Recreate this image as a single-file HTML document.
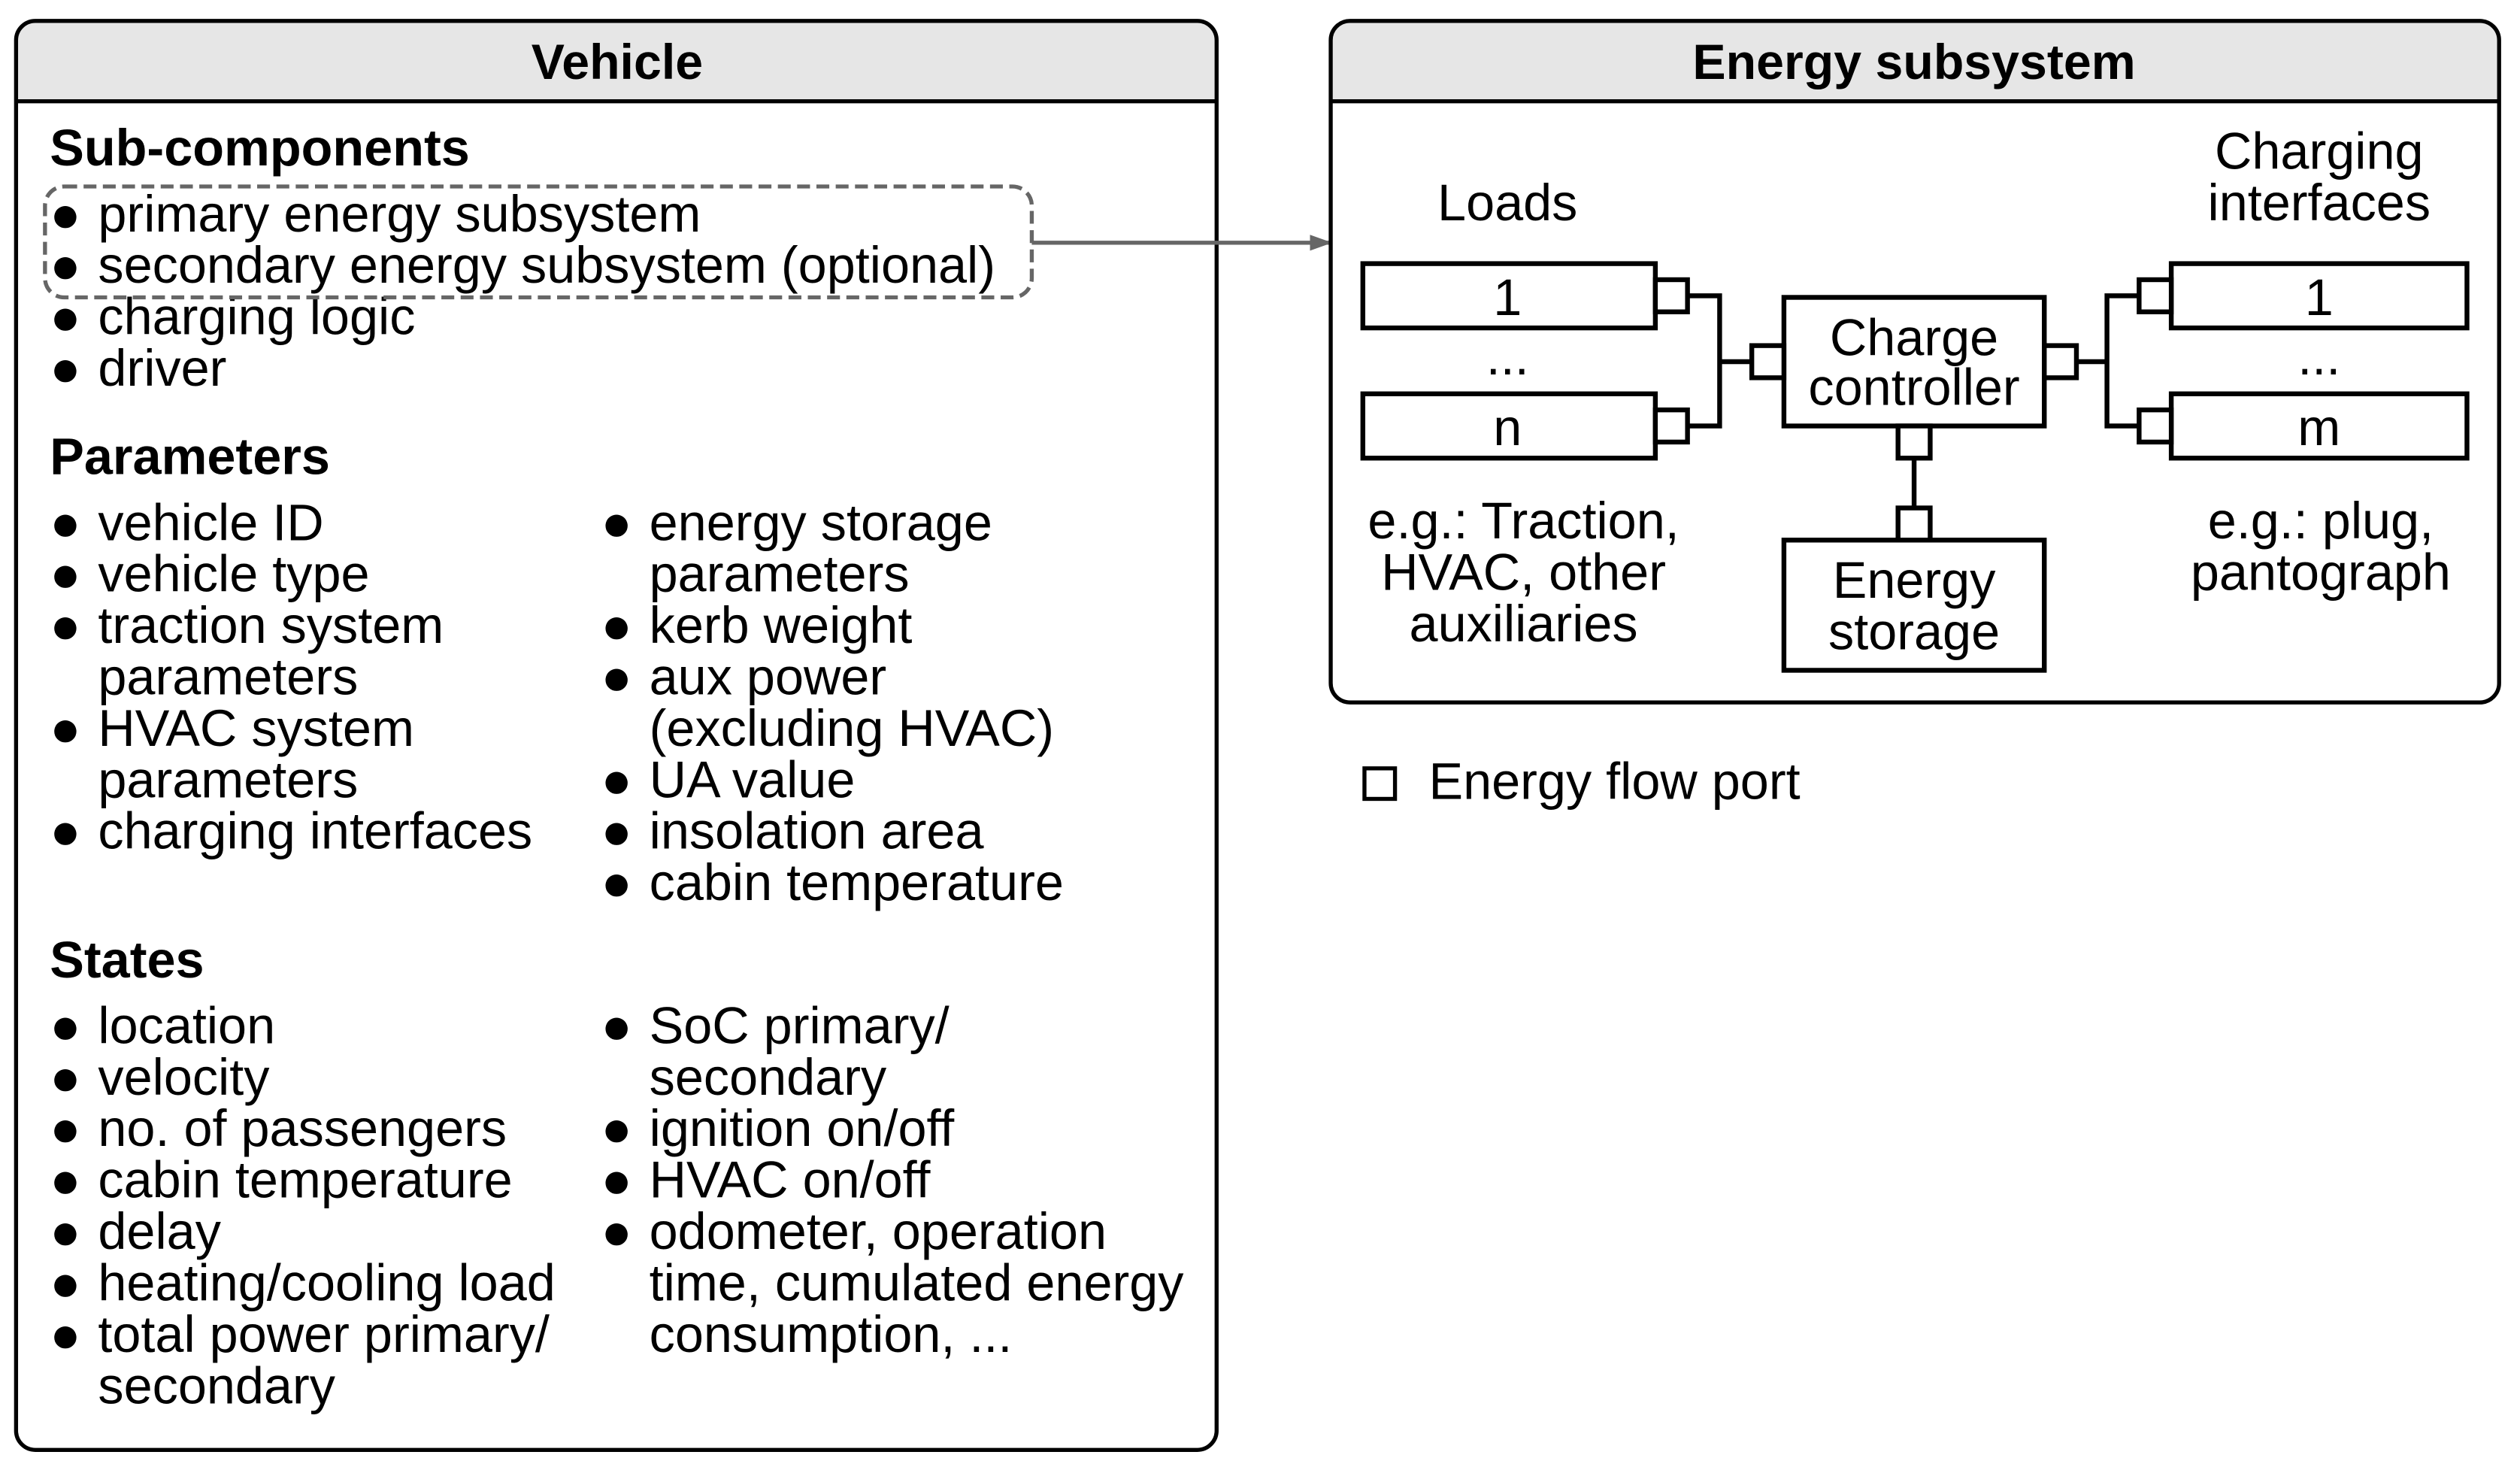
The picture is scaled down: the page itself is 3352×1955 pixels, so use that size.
<!DOCTYPE html>
<html><head><meta charset="utf-8"><style>
html,body{margin:0;padding:0;background:#fff;}
svg{display:block;}
text{font-family:"Liberation Sans",sans-serif;fill:#000;}
</style></head><body>
<svg width="3352" height="1955" viewBox="0 0 1568 914.5" xmlns="http://www.w3.org/2000/svg">
<defs><marker id="ah" markerWidth="14" markerHeight="12" refX="13" refY="6" orient="auto" markerUnits="userSpaceOnUse"><path d="M0,1 L14,6 L0,11 z" fill="#666"/></marker></defs>
<!-- Vehicle -->
<path d="M22,13 H745 A12,12 0 0 1 757,25 V63 H10 V25 A12,12 0 0 1 22,13 Z" fill="#e6e6e6"/>
<rect x="10" y="13" width="747" height="889" rx="12" fill="none" stroke="#000" stroke-width="2.5"/>
<line x1="10" y1="63" x2="757" y2="63" stroke="#000" stroke-width="2.5"/>
<text x="384" y="49" font-size="31" font-weight="bold" text-anchor="middle">Vehicle</text>
<g font-size="32">
<text x="31" y="103" font-weight="bold">Sub-components</text>
<text x="31" y="295" font-weight="bold">Parameters</text>
<text x="31" y="608" font-weight="bold">States</text>
</g>
<g font-size="32">
<text x="31" y="144">●</text><text x="31" y="176">●</text><text x="31" y="208">●</text><text x="31" y="240">●</text>
<text x="31" y="336">●</text><text x="31" y="368">●</text><text x="31" y="400">●</text><text x="31" y="464">●</text><text x="31" y="528">●</text>
<text x="374" y="336">●</text><text x="374" y="400">●</text><text x="374" y="432">●</text><text x="374" y="496">●</text><text x="374" y="528">●</text><text x="374" y="560">●</text>
<text x="31" y="649">●</text><text x="31" y="681">●</text><text x="31" y="713">●</text><text x="31" y="745">●</text><text x="31" y="777">●</text><text x="31" y="809">●</text><text x="31" y="841">●</text>
<text x="374" y="649">●</text><text x="374" y="713">●</text><text x="374" y="745">●</text><text x="374" y="777">●</text>
</g>
<g font-size="32">
<text x="61" y="144">primary energy subsystem</text>
<text x="61" y="176">secondary energy subsystem (optional)</text>
<text x="61" y="208">charging logic</text>
<text x="61" y="240">driver</text>
<text x="61" y="336">vehicle ID</text>
<text x="61" y="368">vehicle type</text>
<text x="61" y="400">traction system</text>
<text x="61" y="432">parameters</text>
<text x="61" y="464">HVAC system</text>
<text x="61" y="496">parameters</text>
<text x="61" y="528">charging interfaces</text>
<text x="404" y="336">energy storage</text>
<text x="404" y="368">parameters</text>
<text x="404" y="400">kerb weight</text>
<text x="404" y="432">aux power</text>
<text x="404" y="464">(excluding HVAC)</text>
<text x="404" y="496">UA value</text>
<text x="404" y="528">insolation area</text>
<text x="404" y="560">cabin temperature</text>
<text x="61" y="649">location</text>
<text x="61" y="681">velocity</text>
<text x="61" y="713">no. of passengers</text>
<text x="61" y="745">cabin temperature</text>
<text x="61" y="777">delay</text>
<text x="61" y="809">heating/cooling load</text>
<text x="61" y="841">total power primary/</text>
<text x="61" y="873">secondary</text>
<text x="404" y="649">SoC primary/</text>
<text x="404" y="681">secondary</text>
<text x="404" y="713">ignition on/off</text>
<text x="404" y="745">HVAC on/off</text>
<text x="404" y="777">odometer, operation</text>
<text x="404" y="809">time, cumulated energy</text>
<text x="404" y="841">consumption, ...</text>
</g>
<rect x="28" y="116" width="614" height="69" rx="12" fill="none" stroke="#666" stroke-width="2.5" stroke-dasharray="8,4"/>
<line x1="642" y1="151" x2="828" y2="151" stroke="#666" stroke-width="2.5" marker-end="url(#ah)"/>
<!-- Energy subsystem -->
<path d="M840,13 H1543 A12,12 0 0 1 1555,25 V63 H828 V25 A12,12 0 0 1 840,13 Z" fill="#e6e6e6"/>
<rect x="828" y="13" width="727" height="424" rx="12" fill="none" stroke="#000" stroke-width="2.5"/>
<line x1="828" y1="63" x2="1555" y2="63" stroke="#000" stroke-width="2.5"/>
<text x="1191" y="49" font-size="31" font-weight="bold" text-anchor="middle">Energy subsystem</text>
<g fill="#fff" stroke="#000" stroke-width="3">
<rect x="848" y="164" width="182" height="40"/>
<rect x="848" y="245" width="182" height="40"/>
<rect x="1351" y="164" width="184" height="40"/>
<rect x="1351" y="245" width="184" height="40"/>
<rect x="1110" y="185" width="162" height="80"/>
<rect x="1110" y="336" width="162" height="81"/>
<rect x="1030" y="174" width="20" height="20"/>
<rect x="1030" y="255" width="20" height="20"/>
<rect x="1090" y="215" width="20" height="20"/>
<rect x="1272" y="215" width="20" height="20"/>
<rect x="1331" y="174" width="20" height="20"/>
<rect x="1331" y="255" width="20" height="20"/>
<rect x="1181" y="265" width="20" height="20"/>
<rect x="1181" y="316" width="20" height="20"/>
</g>
<g fill="none" stroke="#000" stroke-width="3">
<path d="M1050,184 H1070 V265 H1050 M1070,225 H1090"/>
<path d="M1331,184 H1311 V265 H1331 M1311,225 H1292"/>
<path d="M1191,285 V316"/>
</g>
<g font-size="32" text-anchor="middle">
<text x="938" y="137">Loads</text>
<text x="1443" y="105">Charging</text>
<text x="1443" y="137">interfaces</text>
<text x="938" y="196">1</text>
<text x="938" y="233">...</text>
<text x="938" y="277">n</text>
<text x="1443" y="196">1</text>
<text x="1443" y="233">...</text>
<text x="1443" y="277">m</text>
<text x="1191" y="221">Charge</text>
<text x="1191" y="252">controller</text>
<text x="1191" y="372">Energy</text>
<text x="1191" y="404">storage</text>
<text x="948" y="335">e.g.: Traction,</text>
<text x="948" y="367">HVAC, other</text>
<text x="948" y="399">auxiliaries</text>
<text x="1444" y="335">e.g.: plug,</text>
<text x="1444" y="367">pantograph</text>
</g>
<rect x="849" y="478" width="19" height="19" fill="#fff" stroke="#000" stroke-width="2.5"/>
<text x="889" y="497" font-size="32">Energy flow port</text>
</svg>
</body></html>
